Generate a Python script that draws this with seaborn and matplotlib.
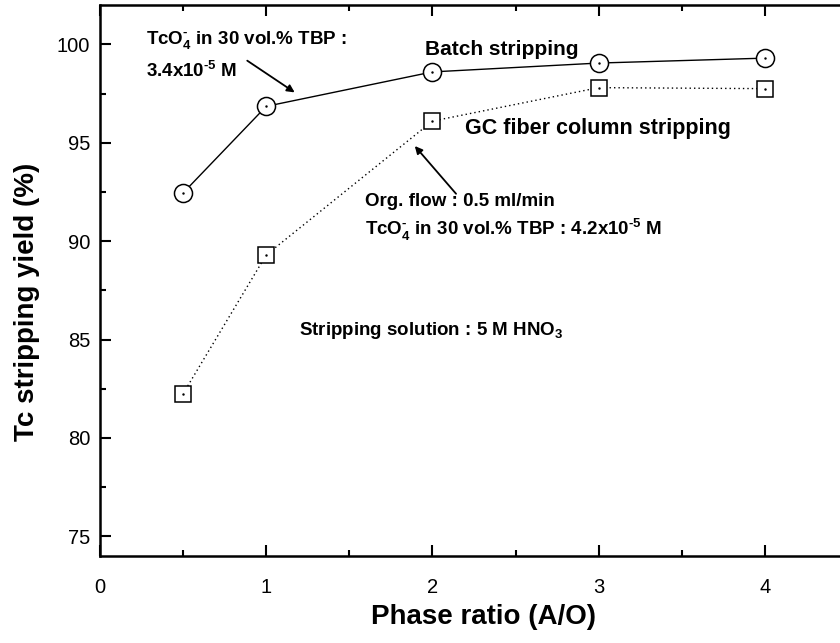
import matplotlib
matplotlib.use('Agg')
import matplotlib.pyplot as plt
import numpy as np
import pandas as pd
import seaborn as sns
from matplotlib.ticker import MultipleLocator

# data
phase_ratio = [0.5, 1, 2, 3, 4]
batch_yield = [92.45, 96.85, 98.6, 99.05, 99.3]
column_yield = [82.25, 89.3, 96.1, 97.8, 97.75]

x_ticks = [0, 1, 2, 3, 4]
y_ticks = [75, 80, 85, 90, 95, 100]

df = pd.DataFrame({'ratio': phase_ratio, 'batch': batch_yield, 'column': column_yield})

sns.set_style('ticks')
plt.rcParams['font.family'] = ['Liberation Sans', 'DejaVu Sans']
plt.rcParams['mathtext.fontset'] = 'custom'
plt.rcParams['mathtext.rm'] = 'Liberation Sans:bold'
plt.rcParams['mathtext.bf'] = 'Liberation Sans:bold'
for key in ['text.color', 'axes.labelcolor', 'xtick.color', 'ytick.color', 'axes.edgecolor']:
    plt.rcParams[key] = 'black'

fig = plt.figure(figsize=(8.4, 6.43), dpi=100)
ax = fig.add_axes([100/840, 87/643, 748/840, 551/643])

sns.lineplot(data=df, x='ratio', y='batch', ax=ax, color='black', lw=1.0,
             marker='o', markersize=13, markerfacecolor='white',
             markeredgecolor='black', markeredgewidth=1.1)
sns.lineplot(data=df, x='ratio', y='column', ax=ax, color='black', lw=1.0,
             linestyle=(0, (1, 2.2)), marker='s', markersize=11,
             markerfacecolor='white', markeredgecolor='black', markeredgewidth=1.1)
# centre dots of the Origin-style markers
ax.plot(df['ratio'], df['batch'], ls='none', marker='.', ms=1.5, color='black')
ax.plot(df['ratio'], df['column'], ls='none', marker='.', ms=1.5, color='black')

ax.set_xlim(0, 4.5)
ax.set_ylim(74, 102)
ax.set_xticks(x_ticks)
ax.set_yticks(y_ticks)
ax.xaxis.set_minor_locator(MultipleLocator(0.5))
ax.yaxis.set_minor_locator(MultipleLocator(2.5))
ax.tick_params(which='both', direction='in', top=True, right=False, width=1.5)
ax.tick_params(which='major', length=8)
ax.tick_params(which='minor', length=4)
ax.tick_params(axis='y', which='major', labelsize=14.5, pad=7)
ax.tick_params(axis='x', which='major', labelsize=14.5, pad=16)
for side in ['left', 'bottom', 'top']:
    ax.spines[side].set_linewidth(1.8)
ax.spines['right'].set_visible(False)

ax.set_xlabel('Phase ratio (A/O)', fontsize=20, fontweight='bold')
ax.set_ylabel('Tc stripping yield (%)', fontsize=20, fontweight='bold')
ax.xaxis.set_label_coords(0.513, -0.088)
ax.yaxis.set_label_coords(-0.08, 0.461)

ax.text(1.955, 99.76, 'Batch stripping', fontsize=15, fontweight='bold', va='center')
ax.text(2.195, 95.7, 'GC fiber column stripping', fontsize=15.5, fontweight='bold', va='center')

fs = 13.5
ax.text(0.277, 100.2, r'TcO$_{4}^{\text{-}}$ in 30 vol.% TBP :', fontsize=fs,
        fontweight='bold', va='center')
ax.text(0.277, 98.65, r'3.4x10$^{\text{-}5}$ M', fontsize=fs, fontweight='bold', va='center')
ax.annotate('', xy=(1.185, 97.48), xytext=(0.872, 99.25),
            arrowprops=dict(arrowstyle='-|>', color='black', lw=1.3, mutation_scale=11))

ax.text(1.594, 92.0, 'Org. flow : 0.5 ml/min', fontsize=fs, fontweight='bold', va='center')
ax.text(1.594, 90.56, r'TcO$_{4}^{\text{-}}$ in 30 vol.% TBP : 4.2x10$^{\text{-}5}$ M',
        fontsize=fs, fontweight='bold', va='center')
ax.annotate('', xy=(1.883, 94.94), xytext=(2.153, 92.3),
            arrowprops=dict(arrowstyle='-|>', color='black', lw=1.3, mutation_scale=11))

ax.text(1.2, 85.45, r'Stripping solution : 5 M HNO$_{3}$', fontsize=fs,
        fontweight='bold', va='center')

fig.savefig('out.png', dpi=100)
